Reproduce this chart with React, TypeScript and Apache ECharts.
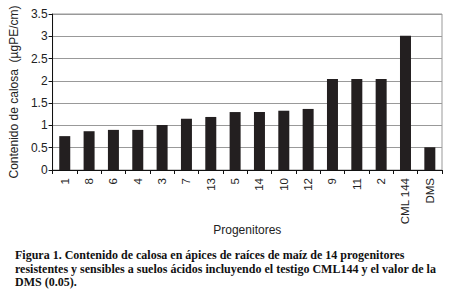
import React, { useEffect, useRef } from "react";
import * as echarts from "echarts";

const categories = ["1", "8", "6", "4", "3", "7", "13", "5", "14", "10", "12", "9", "11", "2", "CML 144", "DMS"];
const values = [0.76, 0.87, 0.9, 0.9, 1.01, 1.15, 1.19, 1.3, 1.3, 1.33, 1.37, 2.04, 2.04, 2.04, 3.01, 0.51];
const captionLines = [
  "Figura 1. Contenido de calosa en ápices de raíces de maíz de 14 progenitores",
  "resistentes y sensibles a suelos ácidos incluyendo el testigo CML144 y el valor de la",
  "DMS (0.05).",
];

export default function App() {
  const ref = useRef<HTMLDivElement>(null);
  useEffect(() => {
    if (!ref.current) return;
    const chart = echarts.init(ref.current, null, { renderer: "svg" });
    chart.setOption({
      animation: false,
      backgroundColor: "#fff",
      grid: {
        left: 42,
        right: 24,
        top: 14,
        bottom: 125,
        show: true,
        borderColor: "#999",
        borderWidth: 1,
      },
      xAxis: {
        type: "category",
        data: categories,
        name: "Progenitores",
        nameLocation: "middle",
        nameGap: 54,
        nameMoveOverlap: false,
        nameTextStyle: { fontFamily: "Liberation Sans", fontSize: 12, color: "#222" },
        axisLine: { lineStyle: { color: "#111", width: 1 } },
        axisTick: { show: true, length: 4, alignWithLabel: false, lineStyle: { color: "#111" } },
        axisLabel: {
          rotate: 90,
          interval: 0,
          margin: 8,
          fontFamily: "Liberation Sans",
          fontSize: 11.5,
          color: "#222",
        },
      },
      yAxis: {
        type: "value",
        min: 0,
        max: 3.5,
        interval: 0.5,
        name: "Contenido de calosa  (µgPE/cm)",
        nameLocation: "middle",
        nameGap: 32,
        nameTextStyle: { fontFamily: "Liberation Sans", fontSize: 12, color: "#222" },
        axisLine: { show: true, lineStyle: { color: "#111", width: 1 } },
        axisTick: { show: true, length: 4, lineStyle: { color: "#111" } },
        axisLabel: { fontFamily: "Liberation Sans", fontSize: 12, color: "#222", margin: 5 },
        splitLine: { show: true, lineStyle: { color: "#999", width: 1 } },
      },
      series: [
        {
          type: "bar",
          data: values,
          barWidth: 11,
          itemStyle: { color: "#231f20" },
        },
      ],
      graphic: captionLines.map((t, i) => ({
        type: "text",
        left: 15,
        top: 249 + i * 13.5,
        style: {
          text: t,
          font: "bold 12px 'Liberation Serif'",
          fill: "#111",
        },
      })),
    });
    return () => chart.dispose();
  }, []);
  return <div ref={ref} style={{ width: 466, height: 295, position: "absolute", left: 0, top: 0 }} />;
}
